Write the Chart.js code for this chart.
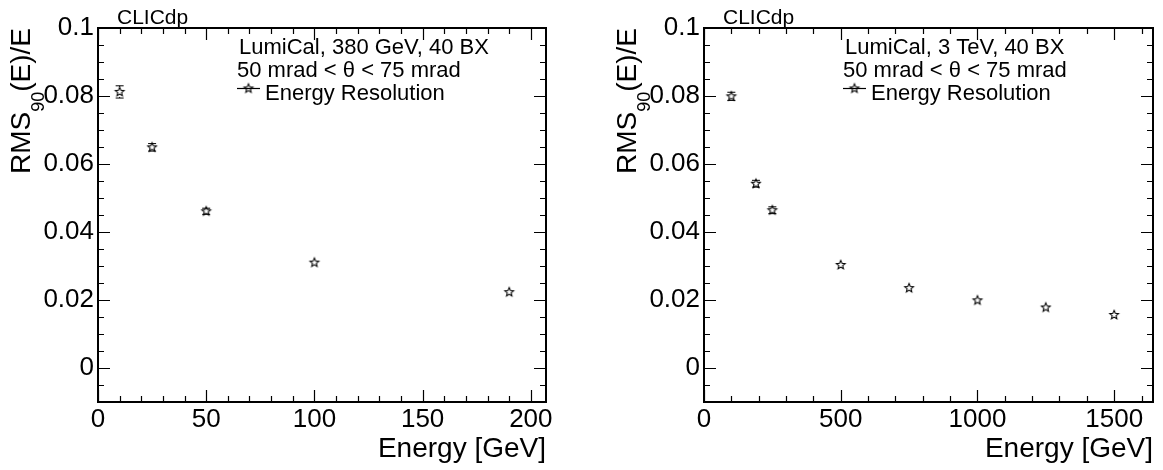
<!DOCTYPE html>
<html>
<head>
<meta charset="utf-8">
<script src="https://cdn.jsdelivr.net/npm/chart.js@4/dist/chart.umd.min.js"></script>
<style>
  body { margin: 0; background: #fff; width: 1163px; height: 470px; overflow: hidden; position: relative; }
  canvas { position: absolute; top: 0; }
</style>
</head>
<body>
<canvas id="c380" width="582" height="470" style="left:0"></canvas>
<canvas id="c3tev" width="581" height="470" style="left:582px"></canvas>
<script>
// LumiCal 380 GeV
const energy380 = [10, 25, 50, 100, 190];
const res380 = [0.0812, 0.0649, 0.0461, 0.0310, 0.0223];
const err380 = [0.0018, 0.0011, 0.0009, 0.0003, 0.0002];

// LumiCal 3 TeV
const energy3 = [100, 190, 250, 500, 750, 1000, 1250, 1500];
const res3 = [0.0799, 0.0542, 0.0464, 0.0303, 0.0235, 0.0199, 0.0178, 0.0156];
const err3 = [0.0012, 0.0010, 0.0010, 0.0003, 0.0002, 0.0002, 0.0002, 0.0002];

const yTicks = [0, 0.02, 0.04, 0.06, 0.08, 0.1];
const yTickLabels = ['0', '0.02', '0.04', '0.06', '0.08', '0.1'];
const xTicks380 = [0, 50, 100, 150, 200];
const xTickLabels380 = ['0', '50', '100', '150', '200'];
const xTicks3 = [0, 500, 1000, 1500];
const xTickLabels3 = ['0', '500', '1000', '1500'];

const FONT = '"Liberation Sans", Arial, Helvetica, sans-serif';
Chart.defaults.font.family = FONT;
Chart.defaults.color = '#000';

// open star marker, like ROOT marker 30
function starImage(r, lw) {
  const c = document.createElement('canvas');
  c.width = c.height = Math.ceil(2 * r + 4);
  const g = c.getContext('2d');
  const m = c.width / 2;
  g.beginPath();
  for (let i = 0; i < 10; i++) {
    const a = -Math.PI / 2 + i * Math.PI / 5;
    const rr = i % 2 ? r * 0.45 : r;
    g.lineTo(m + rr * Math.cos(a), m + rr * Math.sin(a));
  }
  g.closePath();
  g.lineWidth = lw;
  g.strokeStyle = '#000';
  g.stroke();
  return c;
}
const star = starImage(4.6, 1.1);

function drawTicks(ctx, scale, a, b, majors, step, horizontal, len) {
  const n = Math.round((majors[1] - majors[0]) / step);
  const k0 = Math.ceil(scale.min / step - 1e-6), k1 = Math.floor(scale.max / step + 1e-6);
  ctx.beginPath();
  for (let k = k0; k <= k1; k++) {
    const v = k * step;
    const l = (k % n === 0) ? len : len / 2;
    const p = Math.round(scale.getPixelForValue(v)) + 0.5;
    if (horizontal) {
      ctx.moveTo(p, a); ctx.lineTo(p, a - l);
      ctx.moveTo(p, b); ctx.lineTo(p, b + l);
    } else {
      ctx.moveTo(a, p); ctx.lineTo(a + l, p);
      ctx.moveTo(b, p); ctx.lineTo(b - l, p);
    }
  }
  ctx.stroke();
}

const rootFrame = {
  id: 'rootFrame',
  beforeDatasetsDraw(chart) {
    const ctx = chart.ctx, xs = chart.scales.x, ys = chart.scales.y;
    const ds = chart.data.datasets[0];
    ctx.save();
    ctx.strokeStyle = '#000';
    ctx.lineWidth = 1;
    ds.data.forEach((pt, i) => {
      const px = xs.getPixelForValue(pt.x), py = ys.getPixelForValue(pt.y);
      const d = Math.abs(ys.getPixelForValue(pt.y + ds.errors[i]) - py);
      if (d < 2) return;
      ctx.beginPath();
      if (d > 5) {
        ctx.moveTo(px, py - d); ctx.lineTo(px, py - 5);
        ctx.moveTo(px, py + 5); ctx.lineTo(px, py + d);
      }
      ctx.moveTo(px - 4, py - d); ctx.lineTo(px + 4, py - d);
      ctx.moveTo(px - 4, py + d); ctx.lineTo(px + 4, py + d);
      ctx.stroke();
    });
    ctx.restore();
  },
  afterDraw(chart, args, o) {
    const ctx = chart.ctx, area = chart.chartArea;
    const xs = chart.scales.x, ys = chart.scales.y;
    ctx.save();
    ctx.strokeStyle = '#000';
    ctx.fillStyle = '#000';
    // ticks on all four sides, pointing inwards
    ctx.lineWidth = 1.2;
    drawTicks(ctx, xs, area.bottom, area.top, o.xTicks, o.xMinor, true, 12);
    drawTicks(ctx, ys, area.left, area.right, yTicks, 0.005, false, 12);
    // frame
    ctx.lineWidth = 2;
    ctx.strokeRect(area.left, area.top, area.right - area.left, area.bottom - area.top);

    // CLICdp
    ctx.font = '21px ' + FONT;
    ctx.textAlign = 'left';
    ctx.textBaseline = 'alphabetic';
    ctx.fillText('CLICdp', area.left + 19, 24);

    // x title
    ctx.font = '28px ' + FONT;
    ctx.textAlign = 'right';
    ctx.fillText('Energy [GeV]', area.right, 457);

    // y title with subscript, rotated, ending at top of frame
    ctx.save();
    ctx.translate(area.left - 68, area.top);
    ctx.rotate(-Math.PI / 2);
    ctx.textAlign = 'left';
    ctx.font = '28px ' + FONT;
    const w1 = ctx.measureText('RMS').width;
    const w3 = ctx.measureText('(E)/E').width;
    ctx.font = '18px ' + FONT;
    const w2 = ctx.measureText('90').width;
    let x0 = -(w1 + w2 + w3);
    ctx.font = '28px ' + FONT;
    ctx.fillText('RMS', x0, 0);
    ctx.font = '18px ' + FONT;
    ctx.fillText('90', x0 + w1, 14);
    ctx.font = '28px ' + FONT;
    ctx.fillText('(E)/E', x0 + w1 + w2, 0);
    ctx.restore();

    // legend
    const lx = area.left + 141;
    ctx.font = '22px ' + FONT;
    ctx.textAlign = 'left';
    ctx.fillText(o.label, lx, 54);
    ctx.fillText('50 mrad < \u03b8 < 75 mrad', lx - 2, 77);
    ctx.fillText('Energy Resolution', lx + 26, 100);
    ctx.lineWidth = 1.2;
    ctx.beginPath();
    ctx.moveTo(lx - 2, 88.5); ctx.lineTo(lx + 21, 88.5);
    ctx.stroke();
    ctx.drawImage(star, lx + 9.5 - star.width / 2, 88.5 - star.height / 2);
    ctx.restore();
  }
};

function makeChart(id, xs, ys, errs, xMax, xTicks, xLabels, xMinor, yWidth, padRight, label) {
  return new Chart(document.getElementById(id), {
    type: 'scatter',
    data: {
      datasets: [{
        data: xs.map((x, i) => ({ x: x, y: ys[i] })),
        errors: errs,
        pointStyle: star,
        showLine: false
      }]
    },
    options: {
      responsive: false,
      animation: false,
      devicePixelRatio: 1,
      layout: { padding: { top: 28, right: padRight, left: 0, bottom: 0 } },
      plugins: {
        legend: { display: false },
        tooltip: { enabled: false },
        rootFrame: { xTicks: xTicks, xMinor: xMinor, label: label }
      },
      scales: {
        x: {
          type: 'linear', min: 0, max: xMax,
          afterFit: s => { s.height = 68; },
          afterBuildTicks: s => { s.ticks = xTicks.map(v => ({ value: v })); },
          grid: { display: false, drawTicks: false },
          border: { display: false },
          ticks: {
            font: { size: 26 }, color: '#000', padding: 2, maxRotation: 0, autoSkip: false,
            callback: v => xLabels[xTicks.indexOf(v)]
          }
        },
        y: {
          type: 'linear', min: -0.01, max: 0.1,
          afterFit: s => { s.width = yWidth; },
          afterBuildTicks: s => { s.ticks = yTicks.map(v => ({ value: v })); },
          grid: { display: false, drawTicks: false },
          border: { display: false },
          ticks: {
            font: { size: 26 }, color: '#000', padding: 4, autoSkip: false,
            callback: v => yTickLabels[yTicks.indexOf(v)]
          }
        }
      }
    },
    plugins: [rootFrame]
  });
}

makeChart('c380', energy380, res380, err380, 207, xTicks380, xTickLabels380, 10, 98, 36, 'LumiCal, 380 GeV, 40 BX');
makeChart('c3tev', energy3, res3, err3, 1642, xTicks3, xTickLabels3, 100, 122, 10, 'LumiCal, 3 TeV, 40 BX');
</script>
</body>
</html>
